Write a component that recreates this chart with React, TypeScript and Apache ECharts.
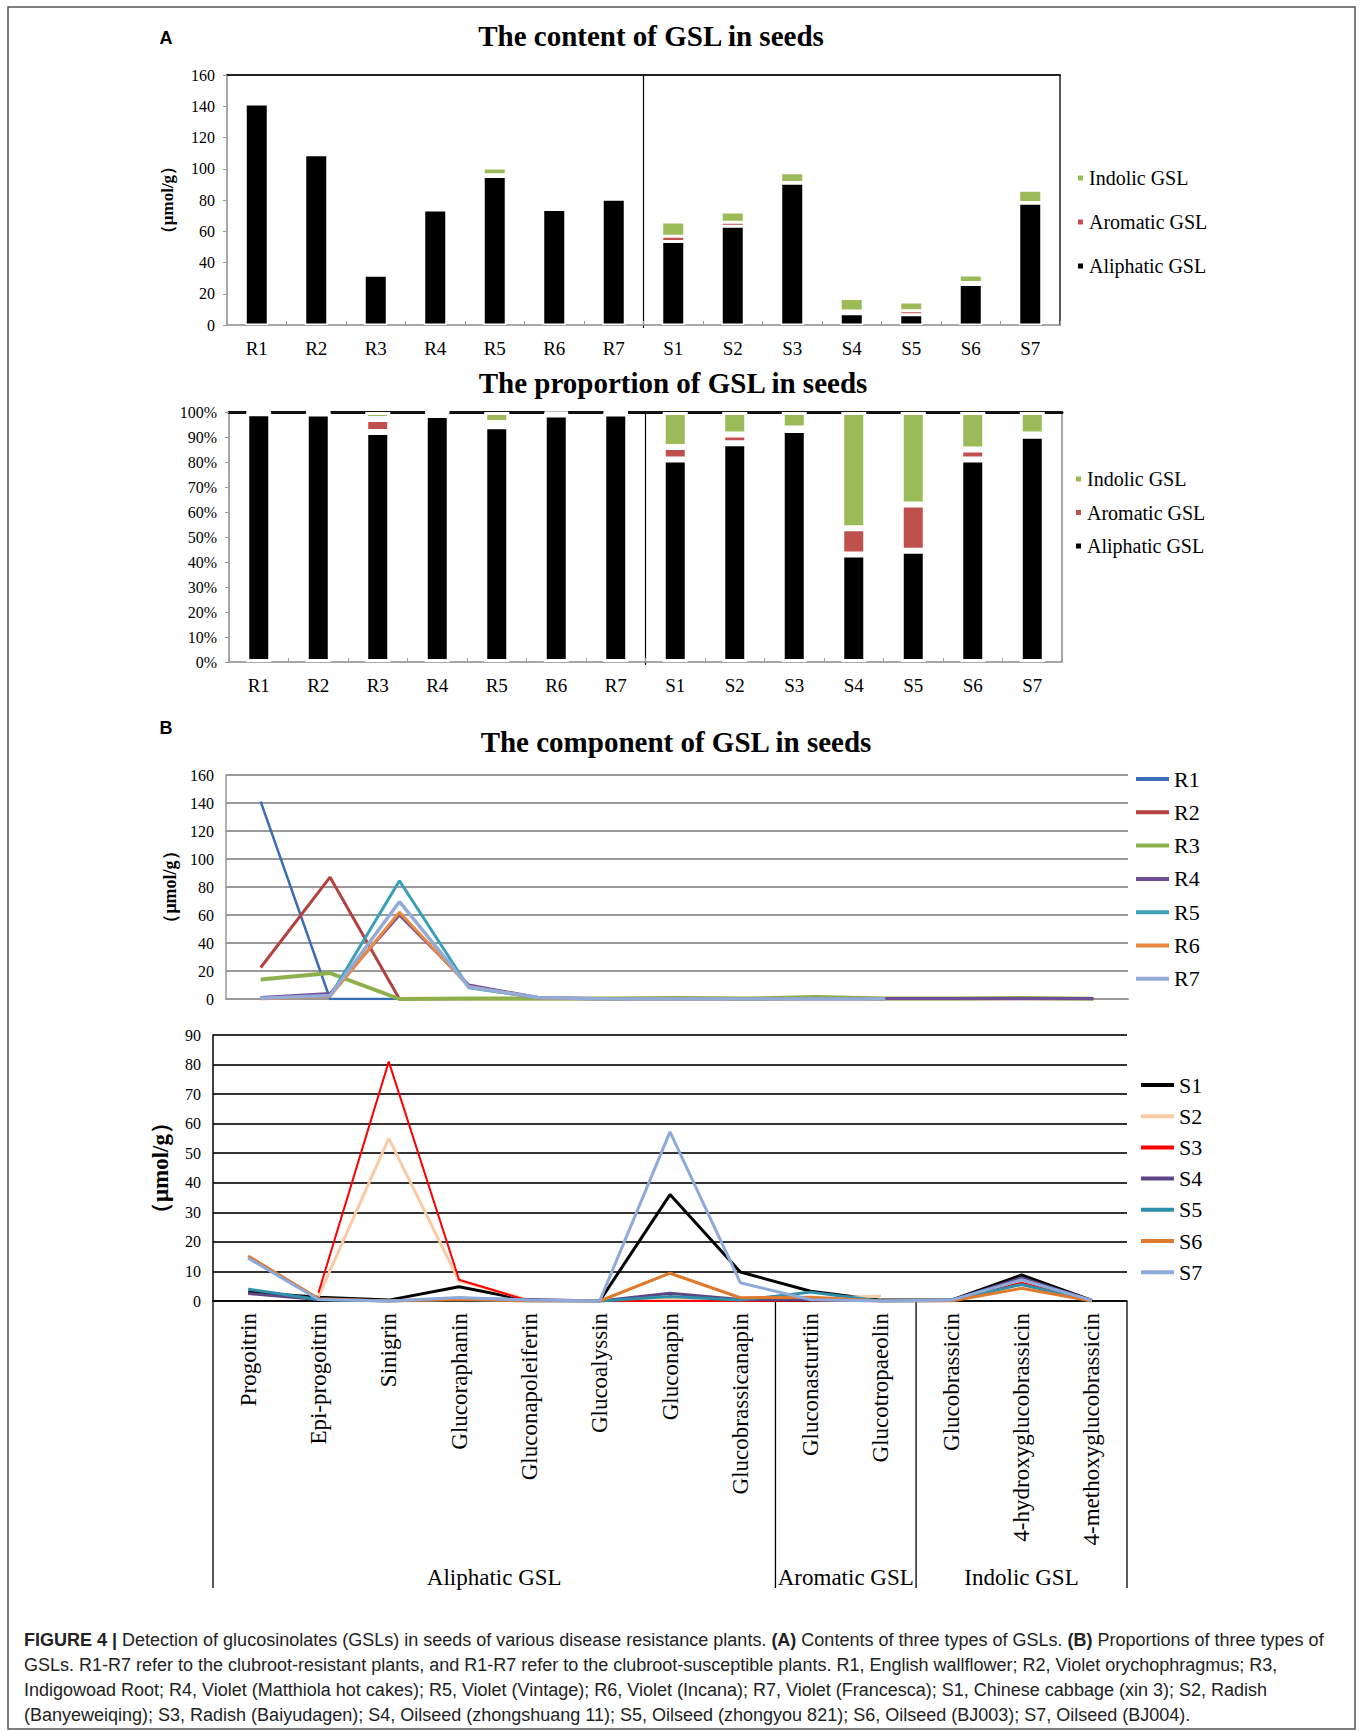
import React, { useEffect, useRef } from "react";
import * as echarts from "echarts";

// ---------- data ----------
const sampleNames = ["R1", "R2", "R3", "R4", "R5", "R6", "R7", "S1", "S2", "S3", "S4", "S5", "S6", "S7"];
const aliphaticContent = [141.5, 109, 31.8, 73.6, 95, 74, 80.5, 53.5, 63.2, 90.8, 7.2, 6.5, 25.9, 78];
const aromaticContent = [0.3, 0.3, 1.9, 0.8, 1.2, 0.3, 0.2, 3.3, 2.5, 0.4, 1.8, 2.7, 1.3, 0.4];
const indolicContent = [0.4, 0.4, 0.8, 0.2, 4.3, 0.4, 0.3, 9.2, 6.6, 6.3, 7.9, 5.5, 4.8, 7.8];

const aliphaticPct = [99.5, 99.4, 92, 98.8, 94.3, 99, 99.4, 81, 87.5, 92.8, 43, 44.5, 81, 90.5];
const aromaticPct = [0.2, 0.3, 5.2, 1.0, 1.3, 0.4, 0.3, 5, 3.5, 0.6, 10.5, 18.5, 4, 0.5];
const indolicPct = [0.3, 0.3, 2.8, 0.2, 4.4, 0.6, 0.3, 14, 9, 6.6, 46.5, 37, 15, 9];

const contentTicks = { min: 0, max: 160, interval: 20 };
const pctTicks = { min: 0, max: 100, interval: 10 };
const lowerTicks = { min: 0, max: 90, interval: 10 };

const components = [
  "Progoitrin", "Epi-progoitrin", "Sinigrin", "Glucoraphanin", "Gluconapoleiferin", "Glucoalyssin",
  "Gluconapin", "Glucobrassicanapin", "Gluconasturtiin", "Glucotropaeolin", "Glucobrassicin",
  "4-hydroxyglucobrassicin", "4-methoxyglucobrassicin",
];
const groupNames = ["Aliphatic GSL", "Aromatic GSL", "Indolic GSL"];
const groupSizes = [8, 2, 3];

const R1 = [141, 0, 0, 0, 0, 0, 0, 0, 0, 0, 0, 0, 0];
const R2 = [22.5, 87, 0, 0, 0, 0, 0, 0, 0, 0, 0, 0, 0];
const R3 = [14, 18.5, 0, 0.3, 0.3, 0.4, 0.8, 0.3, 1.4, 0.3, 0.3, 0.7, 0.2];
const R4 = [1, 4, 60, 10, 1, 0, 0.3, 0, 0.3, 0.4, 0.3, 0.3, 0.3];
const R5 = [0.5, 2, 84.5, 8, 0.8, 0, 0.3, 0, 0.3, 0, null, null, null];
const R6 = [0, 2, 62, 9, 0.8, 0, 0, 0, 0, 0, null, null, null];
const R7 = [0.6, 2.5, 69.5, 8.5, 1, 0, 0, 0, 0, 0, null, null, null];

const S1 = [3, 1.3, 0.3, 4.8, 0.2, 0, 36, 9.8, 3.3, 0.3, 0.3, 8.8, 0.2];
const S2 = [null, 1.5, 55, 6.8, 0.3, 0, 0.5, 0.3, 0.8, 1.7, null, null, null];
const S3 = [null, 2.8, 81, 7.2, 0, 0, 0, 0, 0.2, 0.2, 0, 6.2, 0];
const S4 = [2.5, 0.5, 0, 0.8, 0.5, 0, 2.6, 0.5, 0.5, 0, 0.2, 7.8, 0.2];
const S5 = [4, 0.5, 0, 0.5, 0, 0, 1.5, 0.3, 3, 0, 0.2, 5.6, 0];
const S6 = [15.2, 0.8, 0, 0.5, 0, 0, 9.4, 1.1, 1.3, 0, 0, 4.3, 0];
const S7 = [14.5, 0.5, 0, 1.2, 0.3, 0, 57.2, 6.2, 0.4, 0, 0.3, 7.2, 0.2];

const rSeries = [
  { name: "R1", data: R1, color: "#3B6DB5", width: 2.5 },
  { name: "R2", data: R2, color: "#B5413E", width: 3 },
  { name: "R3", data: R3, color: "#8DB04C", width: 4 },
  { name: "R4", data: R4, color: "#6E4E97", width: 3 },
  { name: "R5", data: R5, color: "#3AA0B8", width: 3 },
  { name: "R6", data: R6, color: "#E9883E", width: 3 },
  { name: "R7", data: R7, color: "#93ABD6", width: 3.5 },
];
const sSeries = [
  { name: "S1", data: S1, color: "#000000", width: 3 },
  { name: "S2", data: S2, color: "#F8CBA6", width: 3 },
  { name: "S3", data: S3, color: "#FF0000", width: 2 },
  { name: "S4", data: S4, color: "#5E4583", width: 3 },
  { name: "S5", data: S5, color: "#2E8FAA", width: 3 },
  { name: "S6", data: S6, color: "#DD7A2E", width: 3 },
  { name: "S7", data: S7, color: "#8EAADB", width: 3 },
];

const captionLines = [
  "{b|FIGURE 4 |} Detection of glucosinolates (GSLs) in seeds of various disease resistance plants. {b|(A)} Contents of three types of GSLs. {b|(B)} Proportions of three types of",
  "GSLs. R1-R7 refer to the clubroot-resistant plants, and R1-R7 refer to the clubroot-susceptible plants. R1, English wallflower; R2, Violet orychophragmus; R3,",
  "Indigowoad Root; R4, Violet (Matthiola hot cakes); R5, Violet (Vintage); R6, Violet (Incana); R7, Violet (Francesca); S1, Chinese cabbage (xin 3); S2, Radish",
  "(Banyeweiqing); S3, Radish (Baiyudagen); S4, Oilseed (zhongshuang 11); S5, Oilseed (zhongyou 821); S6, Oilseed (BJ003); S7, Oilseed (BJ004).",
];

// ---------- layout ----------
const SERIF = '"Liberation Serif", "Times New Roman", serif';
const SANS = '"Liberation Sans", Arial, sans-serif';
const G1 = { left: 227, top: 75, width: 833, height: 250 };
const G2 = { left: 229, top: 412, width: 833, height: 250 };
const G3 = { left: 226, top: 775, width: 902, height: 224 };
const G4 = { left: 213, top: 1035, width: 914, height: 266 };
const BOX_BOTTOM = 1588;

function buildOption() {
  const catLabel = { fontFamily: SERIF, fontSize: 19, color: "#000", margin: 14 };
  const valLabel = { fontFamily: SERIF, fontSize: 16, color: "#000", margin: 12 };
  const yName = (size: number) => ({ fontFamily: SERIF, fontSize: size, fontWeight: "bold", color: "#000" });
  const barItem = (color: string, bw: number) => ({ color, borderColor: "#fff", borderWidth: bw });

  const barSeries = (xi: number, yi: number, stack: string, a: number[], ar: number[], ind: number[], width: number, bw: number) => [
    { name: "Aliphatic GSL", type: "bar", stack, xAxisIndex: xi, yAxisIndex: yi, barWidth: width, data: a, itemStyle: barItem("#000000", bw) },
    { name: "Aromatic GSL", type: "bar", stack, xAxisIndex: xi, yAxisIndex: yi, barWidth: width, data: ar, itemStyle: barItem("#C0504D", bw) },
    { name: "Indolic GSL", type: "bar", stack, xAxisIndex: xi, yAxisIndex: yi, barWidth: width, data: ind, itemStyle: barItem("#9BBB59", bw) },
  ];

  const lineSeries = (list: any[], xi: number, yi: number) =>
    list.map((s) => ({
      name: s.name, type: "line", xAxisIndex: xi, yAxisIndex: yi, data: s.data, symbol: "none",
      connectNulls: false, color: s.color, lineStyle: { color: s.color, width: s.width },
    }));

  const graphics: any[] = [];
  graphics.push({ type: "rect", silent: true, z: -10, shape: { x: 8, y: 7, width: 1347, height: 1722 }, style: { fill: "none", stroke: "#555", lineWidth: 1.5 } });
  graphics.push({ type: "text", x: 166, y: 38, style: { text: "A", fontFamily: SANS, fontWeight: "bold", fontSize: 18, fill: "#000", textAlign: "center", textVerticalAlign: "middle" } });
  graphics.push({ type: "text", x: 166, y: 728, style: { text: "B", fontFamily: SANS, fontWeight: "bold", fontSize: 18, fill: "#000", textAlign: "center", textVerticalAlign: "middle" } });
  const title = (text: string, x: number, y: number) => ({
    type: "text", x, y, style: { text, fontFamily: SERIF, fontWeight: "bold", fontSize: 29, fill: "#000", textAlign: "center", textVerticalAlign: "middle" },
  });
  graphics.push(title("The content of GSL in seeds", 651, 36));
  graphics.push(title("The proportion of GSL in seeds", 673, 383));
  graphics.push(title("The component of GSL in seeds", 676, 742));

  const nR = sampleNames.filter((n) => n[0] === "R").length;
  const d1 = G1.left + (G1.width * nR) / sampleNames.length;
  const d2 = G2.left + (G2.width * nR) / sampleNames.length;
  graphics.push({ type: "line", silent: true, shape: { x1: d1, y1: G1.top, x2: d1, y2: G1.top + G1.height + 3 }, style: { stroke: "#000", lineWidth: 1.2 } });
  graphics.push({ type: "line", silent: true, shape: { x1: d2, y1: G2.top, x2: d2, y2: G2.top + G2.height + 3 }, style: { stroke: "#000", lineWidth: 1.2 } });

  const step = G4.width / components.length;
  let acc = 0;
  const bounds = [G4.left];
  groupSizes.forEach((n) => { acc += n; bounds.push(G4.left + acc * step); });
  bounds.forEach((x) => {
    graphics.push({ type: "line", silent: true, shape: { x1: x, y1: G4.top + G4.height, x2: x, y2: BOX_BOTTOM }, style: { stroke: "#000", lineWidth: 1.3 } });
  });
  groupNames.forEach((g, i) => {
    graphics.push({ type: "text", x: (bounds[i] + bounds[i + 1]) / 2, y: 1577, style: { text: g, fontFamily: SERIF, fontSize: 23, fill: "#000", textAlign: "center", textVerticalAlign: "middle" } });
  });

  captionLines.forEach((line, i) => {
    graphics.push({
      type: "text", x: 24, y: 1640 + i * 25,
      style: {
        text: line, fontFamily: SANS, fontSize: 18, fill: "#222", textAlign: "left", textVerticalAlign: "middle",
        rich: { b: { fontFamily: SANS, fontSize: 18, fontWeight: "bold", fill: "#222" } },
      },
    });
  });

  const legendText = (size: number) => ({ fontFamily: SERIF, fontSize: size, lineHeight: size + 2, color: "#000" });

  return {
    animation: false,
    backgroundColor: "#fff",
    grid: [
      { ...G1, containLabel: false },
      { ...G2, containLabel: false },
      { ...G3, containLabel: false },
      { ...G4, containLabel: false },
    ],
    xAxis: [
      { gridIndex: 0, type: "category", data: sampleNames, axisLine: { lineStyle: { color: "#8a8a8a", width: 1.5 } }, axisTick: { show: true, inside: true, length: 4, lineStyle: { color: "#999" } }, axisLabel: catLabel },
      { gridIndex: 0, type: "category", position: "top", data: sampleNames, axisLine: { onZero: false, lineStyle: { color: "#222", width: 2 } }, axisTick: { show: false }, axisLabel: { show: false } },
      { gridIndex: 1, type: "category", data: sampleNames, axisLine: { lineStyle: { color: "#8a8a8a", width: 1.5 } }, axisTick: { show: true, inside: true, length: 4, lineStyle: { color: "#999" } }, axisLabel: catLabel },
      { gridIndex: 1, type: "category", position: "top", data: sampleNames, axisLine: { onZero: false, lineStyle: { color: "#111", width: 3 } }, axisTick: { show: false }, axisLabel: { show: false } },
      { gridIndex: 2, type: "category", data: components, axisLine: { lineStyle: { color: "#999", width: 2 } }, axisTick: { show: false }, axisLabel: { show: false } },
      { gridIndex: 3, type: "category", data: components, axisLine: { lineStyle: { color: "#000", width: 1.5 } }, axisTick: { show: false }, axisLabel: { rotate: 90, fontFamily: SERIF, fontSize: 23, color: "#000", margin: 12 } },
    ],
    yAxis: [
      { gridIndex: 0, type: "value", ...contentTicks, axisLine: { show: true, lineStyle: { color: "#8a8a8a", width: 1.5 } }, axisTick: { show: true, length: 4, lineStyle: { color: "#999" } }, splitLine: { show: false }, axisLabel: valLabel, name: "（μmol/g）", nameLocation: "middle", nameGap: 51, nameTextStyle: yName(17) },
      { gridIndex: 0, type: "value", position: "right", ...contentTicks, axisLine: { show: true, onZero: false, lineStyle: { color: "#222", width: 1.5 } }, axisTick: { show: false }, splitLine: { show: false }, axisLabel: { show: false } },
      { gridIndex: 1, type: "value", ...pctTicks, axisLine: { show: true, lineStyle: { color: "#8a8a8a", width: 1.5 } }, axisTick: { show: true, length: 4, lineStyle: { color: "#999" } }, splitLine: { show: false }, axisLabel: { ...valLabel, formatter: "{value}%" } },
      { gridIndex: 1, type: "value", position: "right", ...pctTicks, axisLine: { show: true, onZero: false, lineStyle: { color: "#8a8a8a", width: 1.5 } }, axisTick: { show: false }, splitLine: { show: false }, axisLabel: { show: false } },
      { gridIndex: 2, type: "value", ...contentTicks, axisLine: { show: true, lineStyle: { color: "#999", width: 1.5 } }, axisTick: { show: false }, splitLine: { show: true, lineStyle: { color: "#9a9a9a", width: 2 } }, axisLabel: valLabel, name: "（μmol/g）", nameLocation: "middle", nameGap: 47, nameTextStyle: yName(18) },
      { gridIndex: 3, type: "value", ...lowerTicks, axisLine: { show: true, lineStyle: { color: "#000", width: 1.5 } }, axisTick: { show: false }, splitLine: { show: true, lineStyle: { color: "#333", width: 2 } }, axisLabel: valLabel, name: "（μmol/g）", nameLocation: "middle", nameGap: 41, nameTextStyle: yName(23) },
    ],
    legend: [
      { data: ["Indolic GSL", "Aromatic GSL", "Aliphatic GSL"], orient: "vertical", left: 1071, top: 162, itemWidth: 7, itemHeight: 7, itemGap: 22, icon: "rect", selectedMode: false, textStyle: legendText(20) },
      { data: ["Indolic GSL", "Aromatic GSL", "Aliphatic GSL"], orient: "vertical", left: 1069, top: 463, itemWidth: 7, itemHeight: 7, itemGap: 11.5, icon: "rect", selectedMode: false, textStyle: legendText(20) },
      { data: rSeries.map((s) => s.name), orient: "vertical", left: 1131, top: 762, itemWidth: 33, itemHeight: 4, itemGap: 9.3, icon: "rect", selectedMode: false, textStyle: legendText(22) },
      { data: sSeries.map((s) => s.name), orient: "vertical", left: 1136, top: 1068, itemWidth: 33, itemHeight: 4, itemGap: 7.2, icon: "rect", selectedMode: false, textStyle: legendText(22) },
    ],
    series: [
      ...barSeries(0, 0, "content", aliphaticContent, aromaticContent, indolicContent, 23, 1.5),
      ...barSeries(2, 2, "pct", aliphaticPct, aromaticPct, indolicPct, 25, 3),
      ...lineSeries(rSeries, 4, 4),
      ...lineSeries(sSeries, 5, 5),
    ],
    graphic: graphics,
  };
}

export default function App() {
  const ref = useRef<HTMLDivElement>(null);
  useEffect(() => {
    if (!ref.current) return;
    const chart = echarts.init(ref.current, null, { renderer: "svg" });
    chart.setOption(buildOption() as any);
    return () => chart.dispose();
  }, []);
  return <div ref={ref} style={{ position: "absolute", left: 0, top: 0, width: 1362, height: 1731, background: "#fff" }} />;
}
